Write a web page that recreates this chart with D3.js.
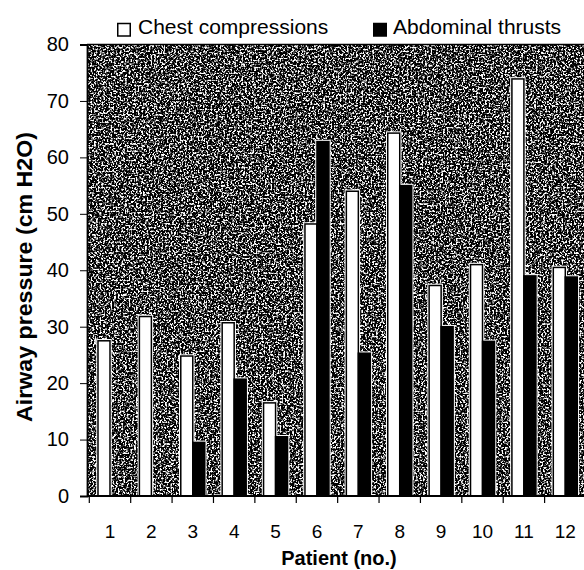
<!DOCTYPE html>
<html>
<head>
<meta charset="utf-8">
<script src="https://cdn.jsdelivr.net/npm/d3@7/dist/d3.min.js"></script>
<style>
  html, body { margin: 0; padding: 0; background: #fff; }
  svg { display: block; font-family: "Liberation Sans", Arial, sans-serif; }
</style>
</head>
<body>
<svg id="chart" width="584" height="570"></svg>
<script>
// data
const patients = ["1", "2", "3", "4", "5", "6", "7", "8", "9", "10", "11", "12"];
const chestCompressions = [27.5, 31.8, 24.8, 30.7, 16.5, 48.2, 54.0, 64.3, 37.3, 41.0, 73.9, 40.5];
const abdominalThrusts = [null, null, 9.5, 20.7, 10.5, 62.8, 25.3, 55.0, 30.0, 27.4, 39.0, 38.8];
const seriesNames = ["Chest compressions", "Abdominal thrusts"];
const yTicks = [0, 10, 20, 30, 40, 50, 60, 70, 80];

const svg = d3.select("#chart");
const plotLeft = 87, plotTop = 44.5, plotBottom = 496, plotRight = 586;

const x = d3.scaleBand().domain(patients).range([89.3, plotRight]).padding(0);
const y = d3.scaleLinear().domain([0, 80]).range([plotBottom, plotTop]);
const barW = 12;
const sub = d3.scaleBand().domain(seriesNames).range([-barW, barW]);

// scanned dither texture for the plot background
const defs = svg.append("defs");
const f = defs.append("filter").attr("id", "dither")
    .attr("x", 0).attr("y", 0).attr("width", "100%").attr("height", "100%")
    .attr("color-interpolation-filters", "sRGB");
f.append("feTurbulence").attr("type", "fractalNoise").attr("baseFrequency", 0.55)
    .attr("numOctaves", 2).attr("seed", 7).attr("result", "noise");
f.append("feColorMatrix").attr("type", "saturate").attr("values", 0);
const ct = f.append("feComponentTransfer");
["feFuncR", "feFuncG", "feFuncB"].forEach(n =>
    ct.append(n).attr("type", "linear").attr("slope", 8).attr("intercept", -8 * 0.48));
ct.append("feFuncA").attr("type", "linear").attr("slope", 0).attr("intercept", 1);

svg.append("rect")
    .attr("x", plotLeft).attr("y", plotTop)
    .attr("width", 584 - plotLeft).attr("height", plotBottom - plotTop)
    .attr("fill", "#555")
    .attr("filter", "url(#dither)");

// bars (thin white halo first, like the scan)
const rows = patients.map((p, i) => ({ p, vals: [chestCompressions[i], abdominalThrusts[i]] }));
const halo = svg.append("g");
const g = svg.append("g");
rows.forEach(r => {
    const cx = x(r.p) + x.bandwidth() / 2;
    r.vals.forEach((v, j) => {
        if (v == null) return;
        const bx = cx + sub(seriesNames[j]);
        halo.append("rect")
            .attr("x", bx).attr("y", y(v))
            .attr("width", sub.bandwidth()).attr("height", y(0) - y(v))
            .attr("fill", "#fff").attr("stroke", "#fff").attr("stroke-width", 3.5);
        g.append("rect")
            .attr("x", bx)
            .attr("y", y(v))
            .attr("width", sub.bandwidth())
            .attr("height", y(0) - y(v))
            .attr("fill", j === 0 ? "#fff" : "#000")
            .attr("stroke", "#000")
            .attr("stroke-width", 1.5);
    });
});

// frame line on top
svg.append("line").attr("x1", plotLeft).attr("x2", 584).attr("y1", plotTop).attr("y2", plotTop)
    .attr("stroke", "#000").attr("stroke-width", 1.5);

// y axis
const yAxis = svg.append("g").attr("transform", `translate(${plotLeft},0)`)
    .call(d3.axisLeft(y).tickValues(yTicks).tickSize(7).tickPadding(11));
yAxis.select(".domain").attr("stroke", "#000").attr("stroke-width", 1.8);
yAxis.selectAll("text").attr("font-size", 20).attr("fill", "#000");

// x axis: ticks on band edges, labels in the middle
const xAxis = svg.append("g").attr("transform", `translate(0,${plotBottom})`);
xAxis.append("line").attr("x1", plotLeft).attr("x2", 584).attr("stroke", "#000").attr("stroke-width", 1.8);
xAxis.selectAll("line.tick").data(patients).join("line")
    .attr("class", "tick")
    .attr("x1", d => x(d)).attr("x2", d => x(d))
    .attr("y1", 0).attr("y2", 7)
    .attr("stroke", "#000").attr("stroke-width", 1.2);
xAxis.selectAll("text").data(patients).join("text")
    .attr("x", d => x(d) + x.bandwidth() / 2)
    .attr("y", 42)
    .attr("text-anchor", "middle")
    .attr("font-size", 19)
    .text(d => d);

// axis titles
svg.append("text")
    .attr("x", 339).attr("y", 565)
    .attr("text-anchor", "middle")
    .attr("font-size", 20).attr("font-weight", "bold")
    .text("Patient (no.)");

svg.append("text")
    .attr("transform", "translate(32,277) rotate(-90)")
    .attr("text-anchor", "middle")
    .attr("font-size", 22).attr("font-weight", "bold")
    .attr("textLength", 290).attr("lengthAdjust", "spacingAndGlyphs")
    .text("Airway pressure (cm H2O)");

// legend
const legendX = [117, 373];
seriesNames.forEach((name, i) => {
    svg.append("rect")
        .attr("x", legendX[i] + 0.75).attr("y", 23.5)
        .attr("width", 12.5).attr("height", 12.5)
        .attr("fill", i === 0 ? "#fff" : "#000")
        .attr("stroke", "#000").attr("stroke-width", 1.5);
    svg.append("text")
        .attr("x", legendX[i] + (i === 0 ? 21 : 20)).attr("y", 34)
        .attr("font-size", 21)
        .text(name);
});
</script>
</body>
</html>
